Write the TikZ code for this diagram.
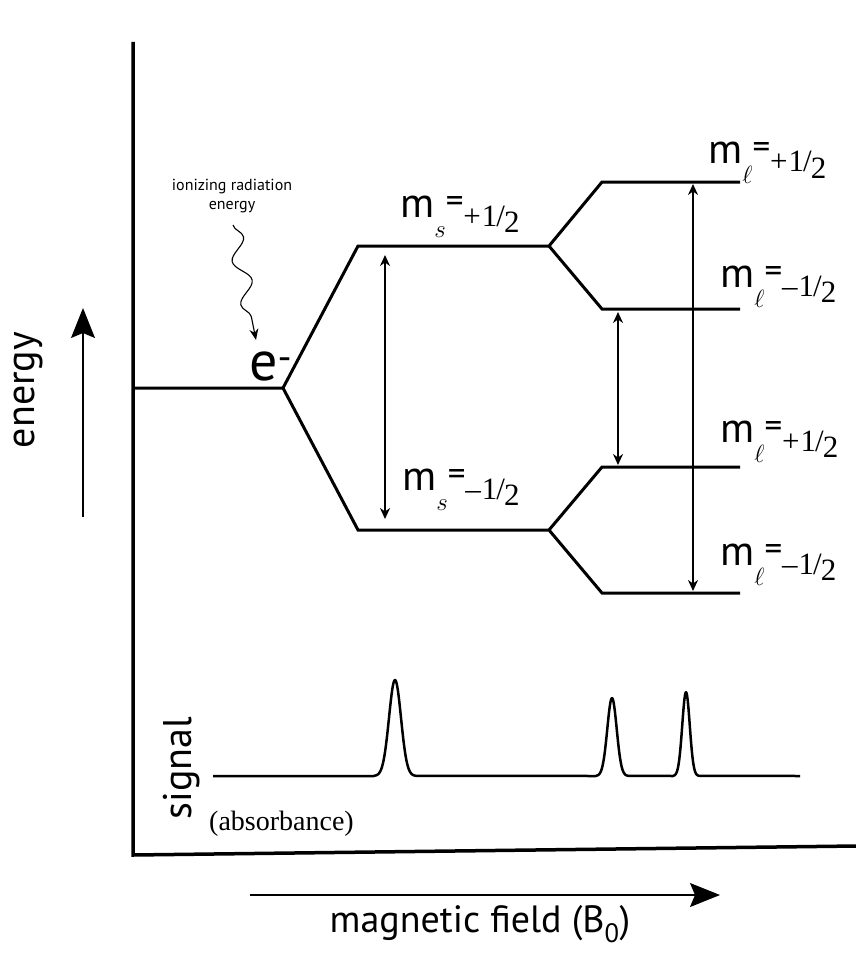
\documentclass[tikz,border=0pt]{standalone}
\usepackage{fontspec}
\setmainfont{PT Sans}
\newfontfamily\numfont{Liberation Serif}
\usetikzlibrary{arrows.meta,decorations.pathmorphing}

% level label: m_{sub}=+-1/2
\newcommand\mlev[2]{%
  {\fontsize{42}{42}\selectfont m}%
  \raisebox{-20pt}{\fontsize{24}{24}\selectfont$#1$}%
  \raisebox{5pt}{\fontsize{35}{35}\selectfont=}%
  \raisebox{-9pt}{\numfont\fontsize{31}{31}\selectfont #2\kern1pt 1\kern-1pt/\kern-1pt\raisebox{-6pt}{2}}}

\begin{document}
\begin{tikzpicture}[x=1pt,y=-1pt,
  level/.style={line width=3pt},
  axis/.style={line width=3.5pt},
  trans/.style={line width=2pt,{Stealth[length=11pt,width=10pt]}-{Stealth[length=11pt,width=10pt]}},
  bigarrow/.style={line width=1.2pt,-{Stealth[length=30pt,width=24pt,inset=5pt]}},
  lab/.style={anchor=base west,inner sep=0pt}]
  \useasboundingbox (0,0) rectangle (856,955);
  % axes
  \draw[axis] (133,42) -- (133,855) -- (856,846);
  \draw[bigarrow] (83,517) -- (83,308);
  \node[rotate=90,font=\fontsize{40}{40}\selectfont] (energy) at (28,390) {energy};
  \draw[bigarrow] (250,895) -- (720,895);
  \node[anchor=base,font=\fontsize{38}{38}\selectfont] (field) at (480,932) {magnetic field (B\textsubscript{0})};
  % energy levels
  \coordinate (e0) at (283,388);
  \coordinate (up) at (358,246);
  \coordinate (dn) at (358,530);
  \coordinate (upR) at (549,246);
  \coordinate (dnR) at (549,530);
  \draw[level] (133,388) -- (e0) -- (up) -- (upR) -- (602,182) -- (740,182);
  \draw[level] (e0) -- (dn) -- (dnR) -- (602,593) -- (740,593);
  \draw[level] (upR) -- (602,309) -- (740,309);
  \draw[level] (dnR) -- (602,467) -- (740,467);
  % transitions
  \draw[trans] (385,255) -- (385,519);
  \draw[trans] (618,312) -- (618,465);
  \draw[trans] (693,184) -- (693,591);
  % labels
  \node[lab] (msUp) at (400,217) {\mlev{s}{+}};
  \node[lab] (msDn) at (402,490) {\mlev{s}{–}};
  \node[lab] (ml1) at (708,163) {\mlev{\ell}{+}};
  \node[lab] (ml2) at (720,287) {\mlev{\ell}{–}};
  \node[lab] (ml3) at (720,442) {\mlev{\ell}{+}};
  \node[lab] (ml4) at (720,565) {\mlev{\ell}{–}};
  % radiation
  \node[align=center,font=\fontsize{16}{19}\selectfont] (ion) at (232,196) {ionizing radiation\\energy};
  \node[lab,font=\fontsize{56}{56}\selectfont] (elec) at (249,380) {e\textsuperscript{-}};
  \coordinate (wavyS) at (233,225);
  \coordinate (wavyE) at (256,340);
  \draw[line width=1.1pt,-{Stealth[length=11pt,width=9pt]},decorate,
    decoration={snake,amplitude=8pt,segment length=44pt,post length=9pt}] (wavyS) -- (wavyE);
  % signal
  \draw[line width=2.5pt,line join=round] (213,776) -- (374,776)
    -- plot[domain=374:416,samples=70] (\x,{776-96*exp(-((\x-395)^2)/72)})
    -- (596,776)
    -- plot[domain=596:628,samples=50] (\x,{776-78*exp(-((\x-612)^2)/44)})
    -- (673,776)
    -- plot[domain=673:699,samples=40] (\x,{776-84*exp(-((\x-686)^2)/28)})
    -- (800,776);
  \node[rotate=90,font=\fontsize{40}{40}\selectfont] (signal) at (182,768) {signal};
  \node[lab,font=\numfont\fontsize{28}{28}\selectfont] (absorb) at (209,830) {(absorbance)};
\end{tikzpicture}
\end{document}
